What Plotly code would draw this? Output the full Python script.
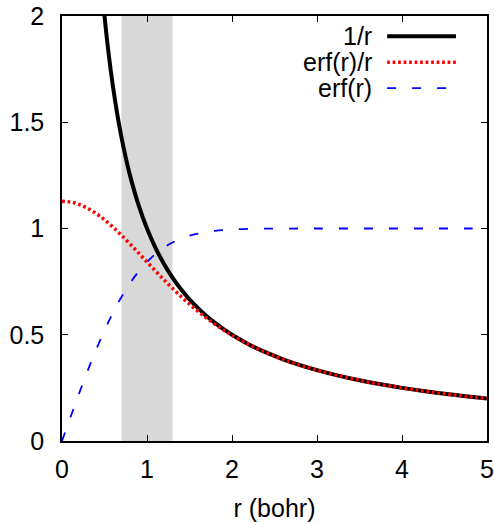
import plotly.graph_objects as go

# r values (bohr) for the curves
r_inv = [0.45, 0.5, 0.55, 0.6, 0.65, 0.7, 0.75, 0.8, 0.9, 1.0, 1.1, 1.2, 1.3, 1.4, 1.5,
         1.6, 1.7, 1.8, 1.9, 2.0, 2.2, 2.4, 2.6, 2.8, 3.0, 3.25, 3.5, 3.75, 4.0,
         4.25, 4.5, 4.75, 5.0]
inv_r = [2.2222, 2.0, 1.8182, 1.6667, 1.5385, 1.4286, 1.3333, 1.25, 1.1111, 1.0, 0.9091,
         0.8333, 0.7692, 0.7143, 0.6667, 0.625, 0.5882, 0.5556, 0.5263, 0.5, 0.4545,
         0.4167, 0.3846, 0.3571, 0.3333, 0.3077, 0.2857, 0.2667, 0.25, 0.2353, 0.2222,
         0.2105, 0.2]

r_erf = [0.0, 0.1, 0.2, 0.3, 0.4, 0.5, 0.6, 0.7, 0.8, 0.9, 1.0, 1.1, 1.2, 1.3, 1.4, 1.5,
         1.6, 1.7, 1.8, 1.9, 2.0, 2.2, 2.4, 2.6, 2.8, 3.0, 3.25, 3.5, 3.75, 4.0, 4.25,
         4.5, 4.75, 5.0]
erf_over_r = [1.1284, 1.1246, 1.1135, 1.0953, 1.0710, 1.0410, 1.0065, 0.9683, 0.9276,
              0.8854, 0.8427, 0.8002, 0.7586, 0.7185, 0.6802, 0.6441, 0.6102, 0.5787,
              0.5495, 0.5225, 0.4977, 0.4537, 0.4164, 0.3845, 0.3571, 0.3333, 0.3077,
              0.2857, 0.2667, 0.25, 0.2353, 0.2222, 0.2105, 0.2]
erf_r = [0.0, 0.1125, 0.2227, 0.3286, 0.4284, 0.5205, 0.6039, 0.6778, 0.7421, 0.7969,
         0.8427, 0.8802, 0.9103, 0.9340, 0.9523, 0.9661, 0.9763, 0.9838, 0.9891, 0.9928,
         0.9953, 0.9981, 0.9993, 0.9998, 0.9999, 1.0, 1.0, 1.0, 1.0, 1.0, 1.0, 1.0, 1.0, 1.0]

shade_range = [0.7, 1.3]

x_ticks = [0, 1, 2, 3, 4, 5]
y_ticks = [0, 0.5, 1, 1.5, 2]
y_tick_labels = ["0", "0.5", "1", "1.5", "2"]

series_names = ["1/r", "erf(r)/r", "erf(r)"]

FONT = "Liberation Sans, Arial, sans-serif"
FS = 25

RED_DASH = "2.7px,2.8px"
BLUE_DASH = "9px,16px"

fig = go.Figure()
fig.add_trace(go.Scatter(x=r_inv, y=inv_r, mode="lines", name=series_names[0],
                         line=dict(color="black", width=4, shape="spline")))
fig.add_trace(go.Scatter(x=r_erf, y=erf_over_r, mode="lines", name=series_names[1],
                         line=dict(color="#ff0000", width=3.5, dash=RED_DASH, shape="spline")))
fig.add_trace(go.Scatter(x=r_erf, y=erf_r, mode="lines", name=series_names[2],
                         line=dict(color="#0000ff", width=1.8, dash=BLUE_DASH, shape="spline")))

fig.add_shape(type="rect", xref="x", yref="paper", x0=shade_range[0], x1=shade_range[1],
              y0=0, y1=1, fillcolor="#d8d8d8", line_width=0, layer="below")

# gnuplot-style legend (text right-aligned, sample to the right)
leg_styles = [dict(color="black", width=4),
              dict(color="#ff0000", width=3.5, dash=RED_DASH),
              dict(color="#0000ff", width=1.8, dash=BLUE_DASH)]
leg_y = [0.9525, 0.8914, 0.8303]
for name, st, yy in zip(series_names, leg_styles, leg_y):
    fig.add_annotation(xref="paper", yref="paper", x=0.733, y=yy, text=name,
                       showarrow=False, xanchor="right", yanchor="middle",
                       font=dict(family=FONT, size=FS, color="black"))
    fig.add_shape(type="line", xref="paper", yref="paper", x0=0.765, x1=0.927,
                  y0=yy, y1=yy, line=st)

axis_common = dict(showline=True, linecolor="black", linewidth=1.5, mirror="ticks",
                   ticks="inside", ticklen=6, tickwidth=1, tickcolor="black",
                   showgrid=False, zeroline=False,
                   tickfont=dict(family=FONT, size=FS, color="black"))

fig.update_xaxes(range=[0, 5], tickvals=x_ticks, ticktext=[str(v) for v in x_ticks],
                 title=dict(text="r (bohr)", font=dict(family=FONT, size=FS, color="black"),
                            standoff=18),
                 ticklabelstandoff=5, **axis_common)
fig.update_yaxes(range=[0, 2], tickvals=y_ticks, ticktext=y_tick_labels,
                 ticklabelstandoff=11, **axis_common)

fig.update_layout(width=494, height=522, showlegend=False,
                  margin=dict(l=62, r=7, t=16, b=81, autoexpand=False),
                  plot_bgcolor="white", paper_bgcolor="white",
                  font=dict(family=FONT, size=FS, color="black"))

fig.write_html("out.html")
